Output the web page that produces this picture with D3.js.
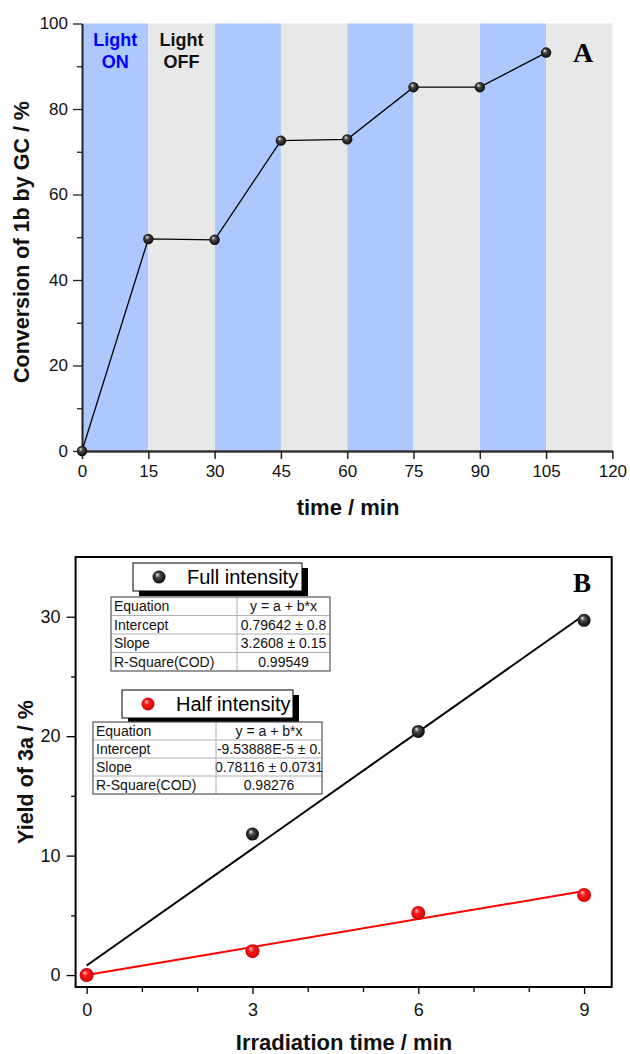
<!DOCTYPE html>
<html lang="en">
<head>
	<meta charset="UTF-8">
	<title>Conversion of 1b and yield of 3a</title>
	<script src="https://d3js.org/d3.v7.min.js"></script>
	<style>
		html, body { margin: 0; padding: 0; background: #fff; }
		svg { display: block; font-family: 'Liberation Sans', Arial, sans-serif; }
		.axisA .tick text { font-size: 17px; fill: #111; }
		.axisB .tick text { font-size: 18px; fill: #111; }
		.axisTitle { font-weight: bold; fill: #111; }
		.cell text { font-size: 14px; fill: #111; }
	</style>
</head>
<body>
<div id="chart"></div>
<script>
// ---- panel A data ----
var timeMin = [0, 15, 30, 45, 60, 75, 90, 105];
var conversion = [0, 49.6, 49.4, 72.6, 72.9, 85.1, 85.1, 93.2];
var lightOnStart = [0, 30, 60, 90];
var lightOffStart = [15, 45, 75, 105];
var timeTicks = [0, 15, 30, 45, 60, 75, 90, 105, 120];
var convTicks = [0, 20, 40, 60, 80, 100];

// ---- panel B data ----
var irradTime = [0, 3, 6, 9];
var yieldFull = [0, 11.8, 20.4, 29.7];
var yieldHalf = [0, 2.0, 5.2, 6.7];
var fitFull = [0.79642, 3.2608];     // a, b
var fitHalf = [-9.53888e-5, 0.78116];
var tableFull = [["Equation", "y = a + b*x"], ["Intercept", "0.79642 \u00b1 0.8"], ["Slope", "3.2608 \u00b1 0.15"], ["R-Square(COD)", "0.99549"]];
var tableHalf = [["Equation", "y = a + b*x"], ["Intercept", "-9.53888E-5 \u00b1 0."], ["Slope", "0.78116 \u00b1 0.0731"], ["R-Square(COD)", "0.98276"]];

var W = 630, H = 1054;
var svg = d3.select('#chart').append('svg').attr('width', W).attr('height', H);

var defs = svg.append('defs');
function sphere(id, c0, c1, c2) {
	var g = defs.append('radialGradient').attr('id', id)
		.attr('cx', '50%').attr('cy', '50%').attr('r', '55%')
		.attr('fx', '35%').attr('fy', '30%');
	g.append('stop').attr('offset', '0%').attr('stop-color', c0);
	g.append('stop').attr('offset', '35%').attr('stop-color', c1);
	g.append('stop').attr('offset', '100%').attr('stop-color', c2);
}
sphere('ballBlack', '#f2f2f2', '#4a4a4a', '#000');
sphere('ballRed', '#ffd0d0', '#ff1a1a', '#c80000');

//////////////////
// PANEL A      //
//////////////////
var xA = d3.scaleLinear().domain([0, 120]).range([82, 612.4]);
var yA = d3.scaleLinear().domain([0, 100]).range([451, 23.5]);

var gA = svg.append('g');

gA.selectAll('.onBand')
	.data(lightOnStart)
	.enter().append('rect')
	.attr('x', function(d) { return xA(d); })
	.attr('y', yA(100))
	.attr('width', function(d) { return xA(d + 15) - xA(d); })
	.attr('height', yA(0) - yA(100))
	.attr('fill', '#adc8fc');

gA.selectAll('.offBand')
	.data(lightOffStart)
	.enter().append('rect')
	.attr('x', function(d) { return xA(d); })
	.attr('y', yA(100))
	.attr('width', function(d) { return xA(d + 15) - xA(d); })
	.attr('height', yA(0) - yA(100))
	.attr('fill', '#e8e8e8');

// minor y ticks
gA.append('g')
	.attr('transform', 'translate(' + xA(0) + ',0)')
	.call(d3.axisLeft(yA).tickValues([10, 30, 50, 70, 90]).tickSize(5).tickFormat(''))
	.call(function(g) { g.select('.domain').remove(); })
	.selectAll('line').attr('stroke', '#222').attr('stroke-width', 1.3);

gA.append('g')
	.attr('class', 'axisA')
	.attr('transform', 'translate(' + xA(0) + ',0)')
	.call(d3.axisLeft(yA).tickValues(convTicks).tickSize(9).tickSizeOuter(0).tickPadding(5))
	.call(function(g) {
		g.select('.domain').attr('stroke', '#222').attr('stroke-width', 2);
		g.selectAll('line').attr('stroke', '#222').attr('stroke-width', 1.3);
	});

gA.append('g')
	.attr('class', 'axisA')
	.attr('transform', 'translate(0,' + yA(0) + ')')
	.call(d3.axisBottom(xA).tickValues(timeTicks).tickSize(8).tickSizeOuter(0).tickPadding(6))
	.call(function(g) {
		g.select('.domain').attr('stroke', '#333').attr('stroke-width', 2.5);
		g.selectAll('line').attr('stroke', '#222').attr('stroke-width', 1.5);
	});

var lineA = d3.line()
	.x(function(d, i) { return xA(timeMin[i]); })
	.y(function(d) { return yA(d); });

gA.append('path')
	.attr('d', lineA(conversion))
	.attr('fill', 'none')
	.attr('stroke', '#000')
	.attr('stroke-width', 1.3);

gA.selectAll('.ptA')
	.data(conversion)
	.enter().append('circle')
	.attr('cx', function(d, i) { return xA(timeMin[i]); })
	.attr('cy', function(d) { return yA(d); })
	.attr('r', 5.2)
	.attr('fill', 'url(#ballBlack)');

gA.append('text').attr('x', xA(7.5)).attr('y', 46).attr('text-anchor', 'middle')
	.attr('font-size', 18).attr('font-weight', 'bold').attr('fill', '#0000ff').text('Light');
gA.append('text').attr('x', xA(7.5)).attr('y', 68).attr('text-anchor', 'middle')
	.attr('font-size', 18).attr('font-weight', 'bold').attr('fill', '#0000ff').text('ON');
gA.append('text').attr('x', xA(22.5)).attr('y', 46).attr('text-anchor', 'middle')
	.attr('font-size', 18).attr('font-weight', 'bold').attr('fill', '#111').text('Light');
gA.append('text').attr('x', xA(22.5)).attr('y', 68).attr('text-anchor', 'middle')
	.attr('font-size', 18).attr('font-weight', 'bold').attr('fill', '#111').text('OFF');

gA.append('text').attr('x', 583).attr('y', 62).attr('text-anchor', 'middle')
	.attr('font-family', "'Liberation Serif', 'Times New Roman', serif")
	.attr('font-size', 28).attr('font-weight', 'bold').text('A');

gA.append('text').attr('class', 'axisTitle')
	.attr('transform', 'translate(29,242) rotate(-90)')
	.attr('text-anchor', 'middle').attr('font-size', 21.5)
	.text('Conversion of 1b by GC / %');
gA.append('text').attr('class', 'axisTitle')
	.attr('x', 348).attr('y', 515)
	.attr('text-anchor', 'middle').attr('font-size', 22)
	.text('time / min');

//////////////////
// PANEL B      //
//////////////////
var xB = d3.scaleLinear().domain([-0.2, 9.5]).range([75.6, 611.7]);
var yB = d3.scaleLinear().domain([-1, 35]).range([987, 557]);

var gB = svg.append('g');

gB.append('rect')
	.attr('x', xB(-0.2)).attr('y', yB(35))
	.attr('width', xB(9.5) - xB(-0.2)).attr('height', yB(-1) - yB(35))
	.attr('fill', 'none').attr('stroke', '#000').attr('stroke-width', 2);

gB.append('g')
	.attr('transform', 'translate(0,' + yB(-1) + ')')
	.call(d3.axisBottom(xB).tickValues([1, 2, 4, 5, 7, 8]).tickSize(5).tickFormat(''))
	.call(function(g) { g.select('.domain').remove(); })
	.selectAll('line').attr('stroke', '#000').attr('stroke-width', 1.3);

gB.append('g')
	.attr('class', 'axisB')
	.attr('transform', 'translate(0,' + yB(-1) + ')')
	.call(d3.axisBottom(xB).tickValues(irradTime).tickSize(7).tickPadding(9))
	.call(function(g) {
		g.select('.domain').remove();
		g.selectAll('line').attr('stroke', '#000').attr('stroke-width', 1.3);
	});

gB.append('g')
	.attr('transform', 'translate(' + xB(-0.2) + ',0)')
	.call(d3.axisLeft(yB).tickValues([5, 15, 25]).tickSize(4.5).tickFormat(''))
	.call(function(g) { g.select('.domain').remove(); })
	.selectAll('line').attr('stroke', '#000').attr('stroke-width', 1.3);

gB.append('g')
	.attr('class', 'axisB')
	.attr('transform', 'translate(' + xB(-0.2) + ',0)')
	.call(d3.axisLeft(yB).tickValues([0, 10, 20, 30]).tickSize(9).tickPadding(6))
	.call(function(g) {
		g.select('.domain').remove();
		g.selectAll('line').attr('stroke', '#000').attr('stroke-width', 1.3);
	});

// fitted lines
var fitLine = d3.line()
	.x(function(d) { return xB(d[0]); })
	.y(function(d) { return yB(d[1]); });

function fitPts(p) {
	return [[0, p[0]], [9, p[0] + p[1] * 9]];
}

gB.append('path').attr('d', fitLine(fitPts(fitFull)))
	.attr('fill', 'none').attr('stroke', '#000').attr('stroke-width', 2);
gB.append('path').attr('d', fitLine(fitPts(fitHalf)))
	.attr('fill', 'none').attr('stroke', '#ff0000').attr('stroke-width', 2);

gB.selectAll('.ptFull')
	.data(yieldFull)
	.enter().append('circle')
	.attr('cx', function(d, i) { return xB(irradTime[i]); })
	.attr('cy', function(d) { return yB(d); })
	.attr('r', 6.5)
	.attr('fill', 'url(#ballBlack)');

gB.selectAll('.ptHalf')
	.data(yieldHalf)
	.enter().append('circle')
	.attr('cx', function(d, i) { return xB(irradTime[i]); })
	.attr('cy', function(d) { return yB(d); })
	.attr('r', 7)
	.attr('fill', 'url(#ballRed)');

// legend boxes with drop shadow
function legendBox(x, y, w, h, ball, label) {
	var g = gB.append('g');
	g.append('rect').attr('x', x + 6).attr('y', y + 5).attr('width', w).attr('height', h).attr('fill', '#000');
	g.append('rect').attr('x', x).attr('y', y).attr('width', w).attr('height', h)
		.attr('fill', '#fff').attr('stroke', '#000').attr('stroke-width', 1);
	g.append('circle').attr('cx', x + 26).attr('cy', y + h / 2).attr('r', 6.5).attr('fill', ball);
	g.append('text').attr('x', x + 54).attr('y', y + h / 2 + 7)
		.attr('font-size', 20).attr('fill', '#000').text(label);
}

function statTable(x, y, widths, rowH, rows) {
	var g = gB.append('g').attr('class', 'cell');
	var totalW = widths[0] + widths[1];
	g.append('rect').attr('x', x).attr('y', y).attr('width', totalW).attr('height', rowH * rows.length)
		.attr('fill', '#fff');
	rows.forEach(function(r, i) {
		if (i > 0) {
			g.append('line').attr('x1', x).attr('x2', x + totalW)
				.attr('y1', y + i * rowH).attr('y2', y + i * rowH)
				.attr('stroke', '#b0b0b0').attr('stroke-width', 1);
		}
		g.append('text').attr('x', x + 3).attr('y', y + i * rowH + rowH / 2 + 5).text(r[0]);
		g.append('text').attr('x', x + widths[0] + widths[1] / 2).attr('y', y + i * rowH + rowH / 2 + 5)
			.attr('text-anchor', 'middle').text(r[1]);
	});
	g.append('line').attr('x1', x + widths[0]).attr('x2', x + widths[0])
		.attr('y1', y).attr('y2', y + rowH * rows.length)
		.attr('stroke', '#b0b0b0').attr('stroke-width', 1);
	g.append('rect').attr('x', x).attr('y', y).attr('width', totalW).attr('height', rowH * rows.length)
		.attr('fill', 'none').attr('stroke', '#555').attr('stroke-width', 1.2);
}

legendBox(133, 563, 169, 28, 'url(#ballBlack)', 'Full intensity');
statTable(111, 597, [126, 93], 18.5, tableFull);
legendBox(122, 690, 171, 28, 'url(#ballRed)', 'Half intensity');
statTable(93, 722, [123, 106], 18, tableHalf);

gB.append('text').attr('x', 582).attr('y', 592).attr('text-anchor', 'middle')
	.attr('font-family', "'Liberation Serif', 'Times New Roman', serif")
	.attr('font-size', 27).attr('font-weight', 'bold').text('B');

gB.append('text').attr('class', 'axisTitle')
	.attr('transform', 'translate(33,772) rotate(-90)')
	.attr('text-anchor', 'middle').attr('font-size', 21.5)
	.text('Yield of 3a / %');
gB.append('text').attr('class', 'axisTitle')
	.attr('x', 344).attr('y', 1050)
	.attr('text-anchor', 'middle').attr('font-size', 22)
	.text('Irradiation time / min');
</script>
</body>
</html>
